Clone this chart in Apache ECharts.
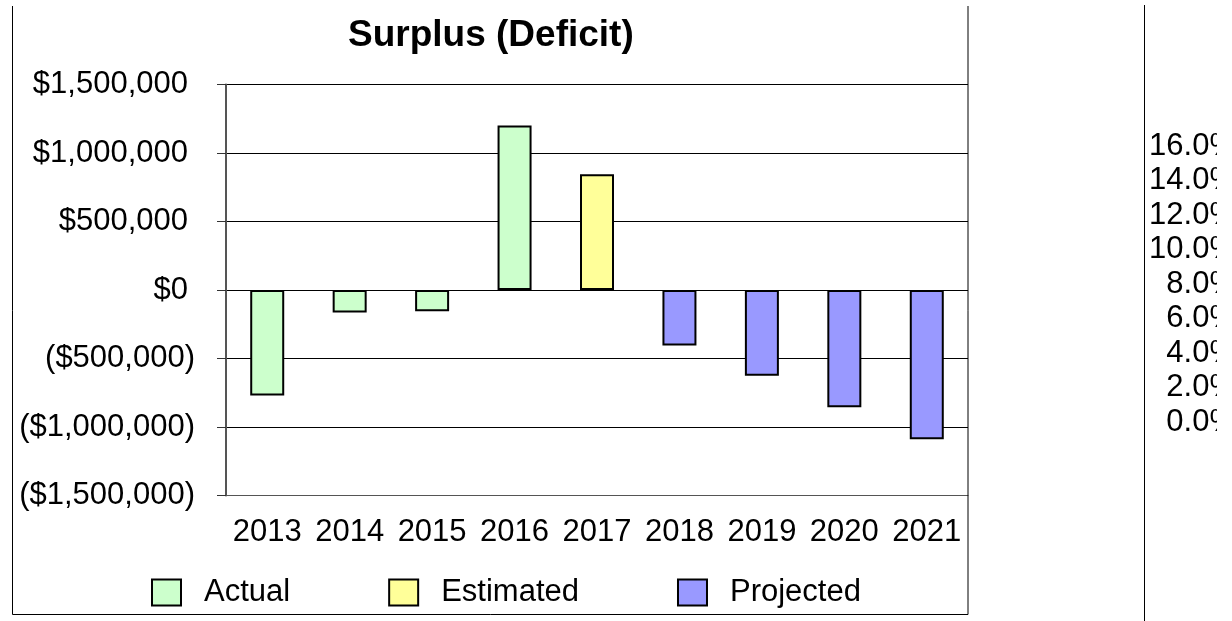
<!DOCTYPE html>
<html>
<head>
<meta charset="utf-8">
<script src="https://cdn.jsdelivr.net/npm/echarts@6/dist/echarts.min.js"></script>
<style>
html,body{margin:0;padding:0;background:#fff;}
#c{width:1232px;height:621px;}
</style>
</head>
<body>
<div id="c"></div>
<script>
const categories = ['2013','2014','2015','2016','2017','2018','2019','2020','2021'];
const actual    = [-770000, -165000, -155000, 1200000, null, null, null, null, null];
const estimated = [null, null, null, null, 845000, null, null, null, null];
const projected = [null, null, null, null, null, -405000, -625000, -855000, -1090000];
const yTicks = { min: -1500000, max: 1500000, interval: 500000 };
const pctTicks = { min: 0, max: 0.16, interval: 0.02 };
const titleText = 'Surplus (Deficit)';

const FONT = '"Liberation Sans", Arial, sans-serif';
const chart = echarts.init(document.getElementById('c'), null, {renderer:'canvas'});

function money(v){
  const s = '$' + Math.abs(v).toLocaleString('en-US');
  return v < 0 ? '{n|(' + s + ')}' : '{p|' + s + '}';
}

const barStyle = (c) => ({ color: c, borderColor: '#000', borderWidth: 2 });

chart.setOption({
  backgroundColor: '#fff',
  animation: false,
  title: {
    text: titleText, left: 348, top: 17, padding: 0,
    textStyle: { fontFamily: FONT, fontSize: 37, fontWeight: 'bold', color: '#000' }
  },
  legend: {
    left: 151, top: 577, itemWidth: 29, itemHeight: 26, itemGap: 98, padding: 0,
    icon: 'rect',
    textStyle: { fontFamily: FONT, fontSize: 31, color: '#000', padding: [0,0,0,18] },
    data: ['Actual','Estimated','Projected']
  },
  grid: [
    { left: 226, top: 84.5, width: 742, height: 411, containLabel: false },
    { left: 1249, top: 146, width: 200, height: 276, containLabel: false }
  ],
  xAxis: [
    {
      type: 'category', data: categories, gridIndex: 0,
      axisLine: { onZero: false, show: true, lineStyle: { color: '#555', width: 1 } },
      axisTick: { show: false },
      axisLabel: { interval: 0, margin: 21, fontFamily: FONT, fontSize: 31, color: '#000' },
      splitLine: { show: false }
    },
    { type: 'category', gridIndex: 1, data: ['a'], show: false }
  ],
  yAxis: [
    {
      type: 'value', gridIndex: 0, min: yTicks.min, max: yTicks.max, interval: yTicks.interval,
      axisLine: { show: true, lineStyle: { color: '#555', width: 2 } },
      axisTick: { show: true, inside: false, length: 9, lineStyle: { color: '#333' } },
      axisLabel: {
        margin: 31, fontFamily: FONT, fontSize: 31, color: '#000',
        formatter: money,
        rich: {
          p: { fontFamily: FONT, fontSize: 31, color: '#000', padding: [0, 7, 0, 0] },
          n: { fontFamily: FONT, fontSize: 31, color: '#000' }
        }
      },
      splitLine: { show: true, lineStyle: { color: '#000', width: 1 } }
    },
    {
      type: 'value', gridIndex: 1, min: pctTicks.min, max: pctTicks.max, interval: pctTicks.interval,
      axisLine: { show: false }, axisTick: { show: false }, splitLine: { show: false },
      axisLabel: {
        margin: 12, fontFamily: FONT, fontSize: 31, color: '#000',
        formatter: (v) => (v * 100).toFixed(1) + '%'
      }
    }
  ],
  series: [
    { name: 'Actual', type: 'bar', stack: 's', data: actual, barWidth: 34, itemStyle: barStyle('#CCFFCC') },
    { name: 'Estimated', type: 'bar', stack: 's', data: estimated, barWidth: 34, itemStyle: barStyle('#FFFF99') },
    { name: 'Projected', type: 'bar', stack: 's', data: projected, barWidth: 34, itemStyle: barStyle('#9999FF') }
  ],
  graphic: [
    { type: 'polyline', z: 100, silent: true,
      shape: { points: [[12.5, 6], [12.5, 614.5], [968, 614.5], [968, 6]] },
      style: { fill: null, stroke: '#000', lineWidth: 1 } },
    { type: 'line', z: 100, silent: true,
      shape: { x1: 1144.5, y1: 5, x2: 1144.5, y2: 621 },
      style: { stroke: '#000', lineWidth: 1 } },
    { type: 'rect', z: 200, silent: true,
      shape: { x: 1217, y: 0, width: 20, height: 621 },
      style: { fill: '#fff' } }
  ]
});
</script>
</body>
</html>
